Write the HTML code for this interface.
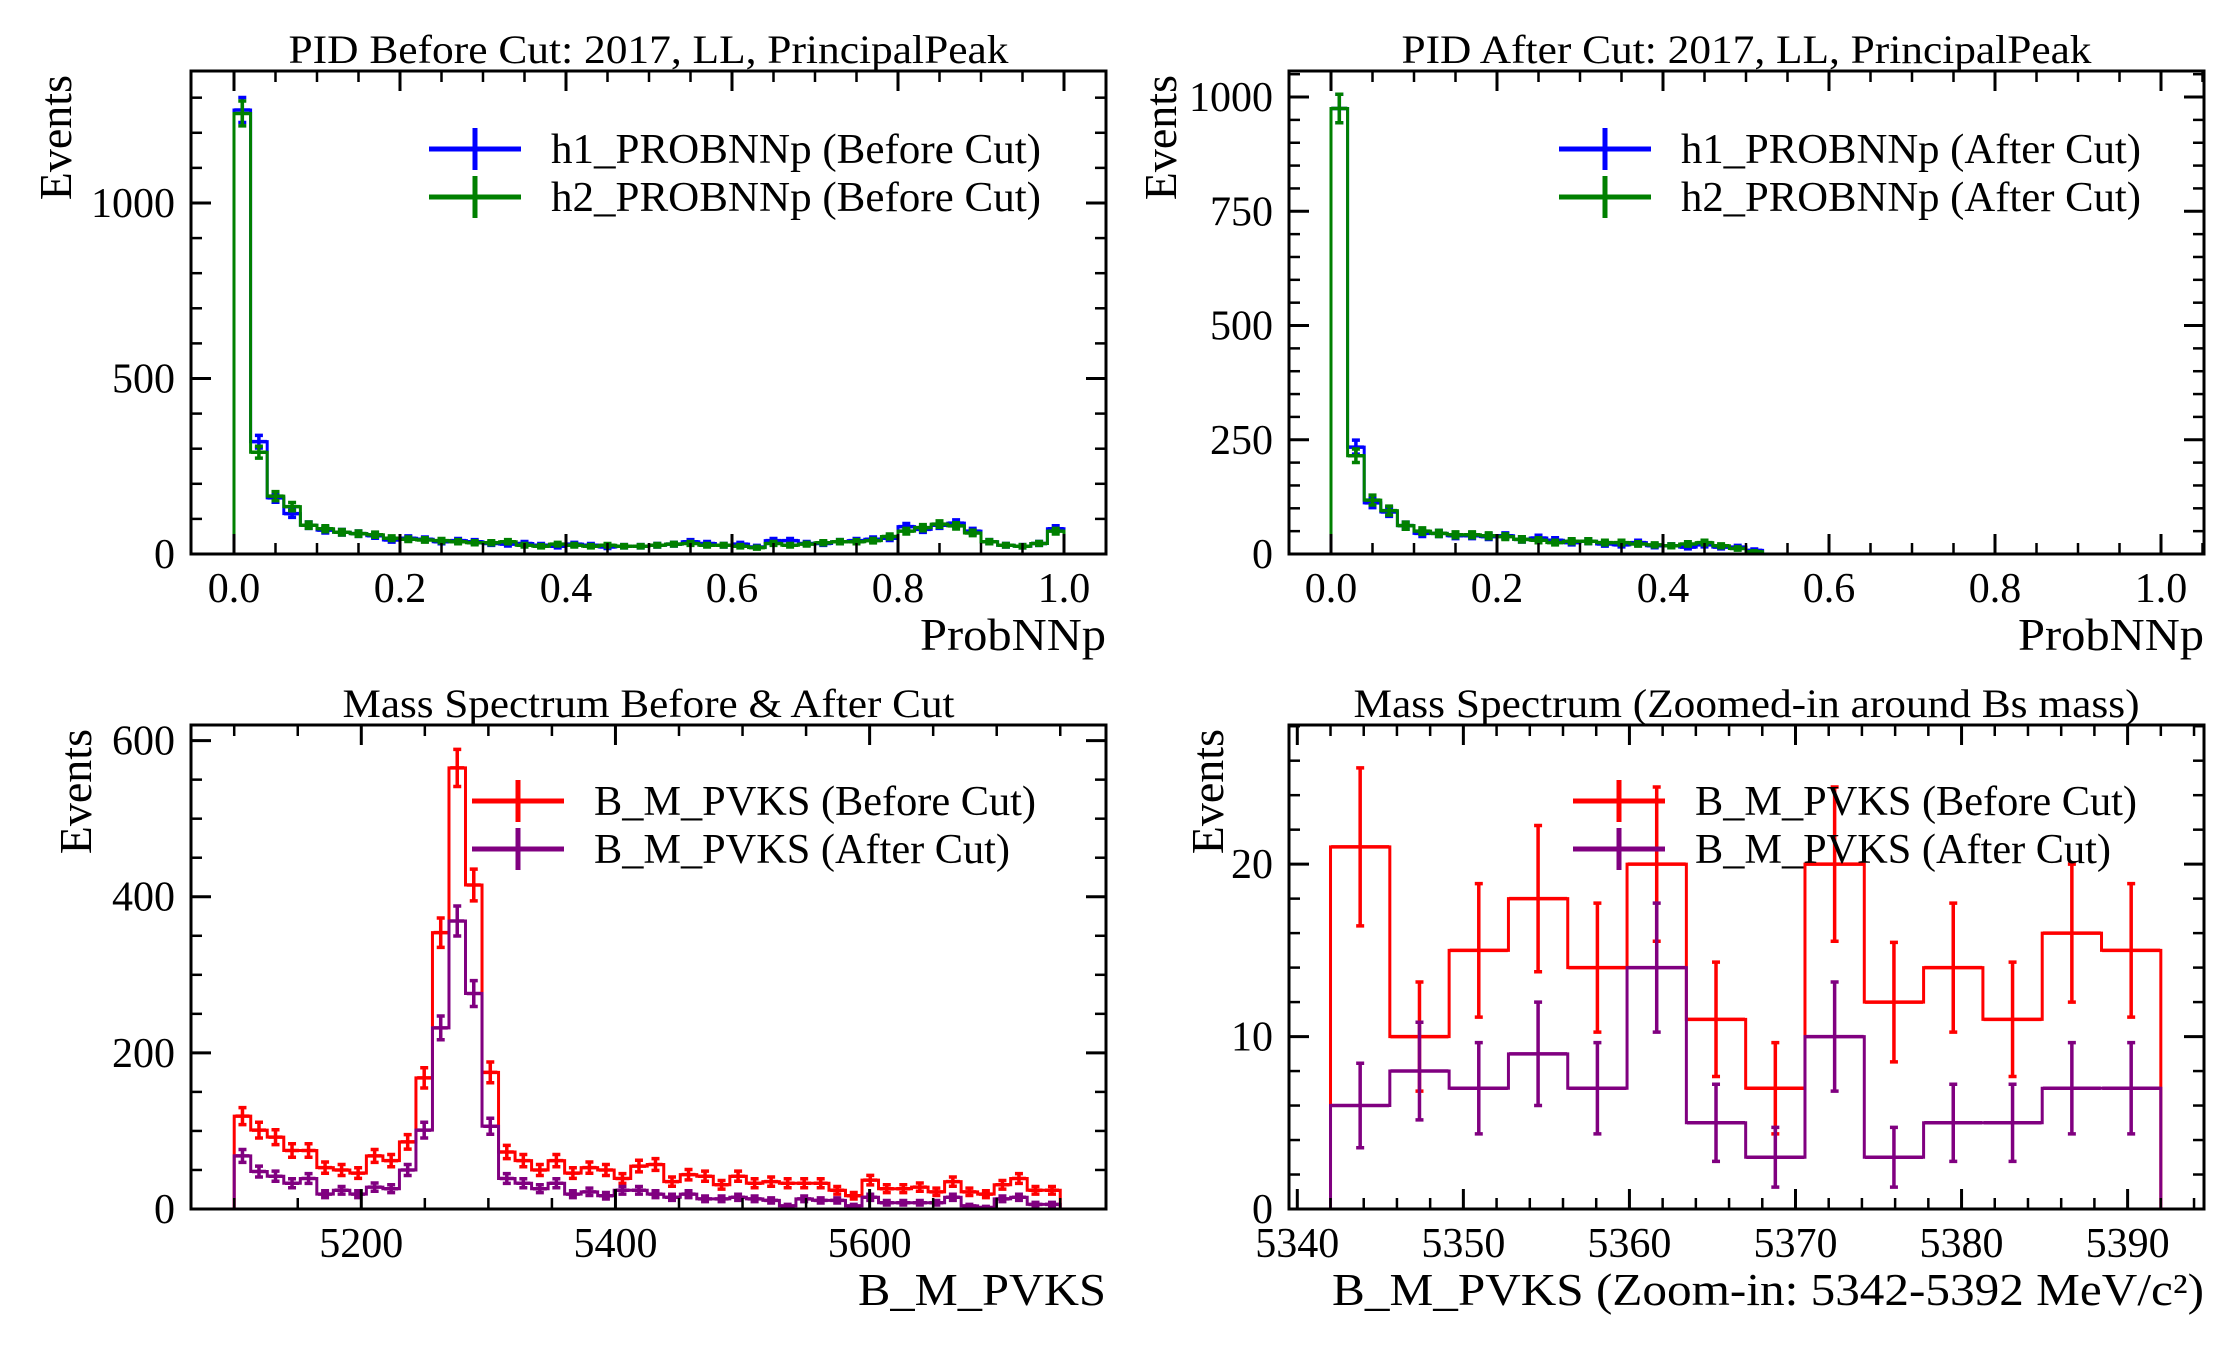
<!DOCTYPE html>
<html><head><meta charset="utf-8"><style>
html,body{margin:0;padding:0;background:#fff}
svg{display:block;font-family:"Liberation Serif",serif}
</style></head><body>
<svg id="fig" width="2232" height="1350" viewBox="0 0 2232 1350" xmlns="http://www.w3.org/2000/svg"></svg>
<script>
// ---- data ----
const pidEdgesStart = 0, pidBinWidth = 0.02;
const pidBeforeH1 = [1265,320,160,115,82,68,62,58,52,40,45,42,35,38,35,30,28,30,25,22,28,25,20,22,22,25,28,35,30,25,28,20,38,38,30,30,35,38,42,45,78,70,82,88,65,35,25,22,30,72];
const pidBeforeH2 = [1255,290,165,135,82,72,62,58,55,45,42,40,38,35,32,32,35,25,22,28,25,22,25,22,22,25,28,30,25,25,22,18,30,25,28,32,35,35,38,50,65,75,85,80,60,35,25,22,30,65];
const pidAfterH1 = [975,234,112,92,62,45,45,40,40,38,40,32,35,30,25,28,22,20,25,18,18,15,20,15,15,8,0,0,0,0,0,0,0,0,0,0,0,0,0,0,0,0,0,0,0,0,0,0,0,0];
const pidAfterH2 = [975,215,118,95,62,50,45,42,42,40,38,32,30,25,28,28,25,25,22,20,18,22,25,18,12,5,0,0,0,0,0,0,0,0,0,0,0,0,0,0,0,0,0,0,0,0,0,0,0,0];
const massStart = 5100, massBinWidth = 13;
const massBefore = [119,101,92,75,75,53,50,46,68,62,86,168,354,565,415,175,73,62,50,62,46,53,50,39,55,57,35,44,42,31,42,33,35,33,33,33,24,17,37,26,26,28,22,35,22,19,31,39,24,24];
const massAfter = [68,48,42,33,39,19,24,19,28,26,50,101,232,369,276,106,39,33,26,33,19,22,17,24,24,19,15,19,13,13,15,13,11,4,13,11,11,4,15,8,8,8,8,15,4,2,13,15,6,6];
const zoomStart = 5342, zoomBinWidth = 50/14;
const zoomBefore = [21,10,15,18,14,20,11,7,20,12,14,11,16,15];
const zoomAfter = [6,8,7,9,7,14,5,3,10,3,5,5,7,7];
const pidTicks = [0,0.2,0.4,0.6,0.8,1.0];
const pidTickLabels = ["0.0","0.2","0.4","0.6","0.8","1.0"];

const NS = "http://www.w3.org/2000/svg";
const fig = document.getElementById('fig');
function el(tag, attrs, parent, text){
  const e = document.createElementNS(NS, tag);
  for (const k in attrs) e.setAttribute(k, attrs[k]);
  if (text !== undefined) e.textContent = text;
  (parent||fig).appendChild(e);
  return e;
}

function panel(c){
  const g = el('g', {});
  
  
  const X = v => c.L + (v - c.xmin) / (c.xmax - c.xmin) * (c.R - c.L);
  const Y = v => c.B - (v - c.ymin) / (c.ymax - c.ymin) * (c.B - c.T);
  c.series.forEach(s => {
    const sg = el('g', {}, g);
    
    
    let d = 'M' + X(s.start) + ',' + Y(0);
    s.vals.forEach((v, i) => {
      d += ' V' + Y(v) + ' H' + X(s.start + (i + 1) * s.w);
    });
    d += ' V' + Y(0);
    const p = el('path', {d: d, fill: 'none', stroke: s.color, 'stroke-width': 3}, sg);
    
    
    s.vals.forEach((v, i) => {
      if (v <= 0) return;
      const cx = X(s.start + (i + 0.5) * s.w), e = Math.sqrt(v);
      const y1 = Y(v - e), y2 = Y(v + e);
      const eb = el('path', {d: 'M' + cx + ',' + y1 + ' V' + y2 + ' M' + (cx - 4) + ',' + y1 + ' H' + (cx + 4) + ' M' + (cx - 4) + ',' + y2 + ' H' + (cx + 4) + ' M' + (cx - c.hx) + ',' + Y(v) + ' H' + (cx + c.hx),
        stroke: s.color, 'stroke-width': 3.5, fill: 'none'}, sg);
      
      
    });
  });
  const tg = el('g', {stroke: '#000'}, g);
  
  
  for (let v = c.xMinorStart; v <= c.xmax + 1e-9; v += c.xMinor) {
    const x = X(v);
    if (x < c.L + 1 || x > c.R - 1) continue;
    const maj = Math.abs(Math.round(v / c.xMajor) * c.xMajor - v) < 1e-6;
    const len = maj ? 20 : 11;
    el('line', {x1: x, x2: x, y1: c.B, y2: c.B - len, 'stroke-width': maj ? 3 : 2.5}, tg);
    el('line', {x1: x, x2: x, y1: c.T, y2: c.T + len, 'stroke-width': maj ? 3 : 2.5}, tg);
  }
  for (let v = 0; v <= c.ymax + 1e-9; v += c.yMinor) {
    const y = Y(v);
    if (y < c.T + 1) continue;
    const maj = Math.abs(Math.round(v / c.yMajor) * c.yMajor - v) < 1e-6;
    const len = maj ? 20 : 11;
    el('line', {x1: c.L, x2: c.L + len, y1: y, y2: y, 'stroke-width': maj ? 3 : 2.5}, tg);
    el('line', {x1: c.R, x2: c.R - len, y1: y, y2: y, 'stroke-width': maj ? 3 : 2.5}, tg);
  }
  const fr = el('rect', {x: c.L, y: c.T, width: c.R - c.L, height: c.B - c.T, fill: 'none', stroke: '#000', 'stroke-width': 3}, g);
  
  
  c.xTicks.forEach((v, i) => {
    const t = el('text', {x: X(v), y: c.B + 48, 'font-size': 42, 'text-anchor': 'middle'}, g, c.xLabels[i]);
    
    
  });
  c.yTicks.forEach(v => {
    const t = el('text', {x: c.L - 16, y: Y(v) + 14, 'font-size': 42, 'text-anchor': 'end'}, g, String(v));
    
    
  });
  const tt = el('text', {x: (c.L + c.R) / 2, y: c.T - 8, 'font-size': 40, 'text-anchor': 'middle', textLength: c.titleLen, lengthAdjust: 'spacingAndGlyphs'}, g, c.title);
  
  
  const xl = el('text', {x: c.R, y: c.B + 96, 'font-size': 46, 'text-anchor': 'end', textLength: c.xTitleLen, lengthAdjust: 'spacingAndGlyphs'}, g, c.xTitle);
  
  
  const yl = el('text', {x: 0, y: 0, 'font-size': 46, 'text-anchor': 'end', transform: 'translate(' + c.ylx + ',' + (c.T + 4) + ') rotate(-90)'}, g, 'Events');
  
  
  c.series.forEach((s, i) => {
    const lg = el('g', {}, g);
    
    
    const ly = c.legY + i * 48;
    el('path', {d: 'M' + c.legX + ',' + ly + ' H' + (c.legX + 92) + ' M' + (c.legX + 46) + ',' + (ly - 21) + ' V' + (ly + 21), stroke: s.color, 'stroke-width': 5, fill: 'none'}, lg);
    el('text', {x: c.legX + 122, y: ly + 14, 'font-size': 42, textLength: s.labelLen, lengthAdjust: 'spacingAndGlyphs'}, lg, s.label);
  });
}

panel({name: 'pid-before-panel', L: 191, R: 1106, T: 71, B: 554, xmin: -0.0518, xmax: 1.0506, ymin: 0, ymax: 1376,
  xMajor: 0.2, xMinor: 0.05, xMinorStart: 0, yMajor: 500, yMinor: 100, xTicks: pidTicks, xLabels: pidTickLabels, yTicks: [0,500,1000],
  title: 'PID Before Cut: 2017, LL, PrincipalPeak', titleLen: 720, xTitle: 'ProbNNp', xTitleLen: 186, ylx: 71, legX: 429, legY: 149, hx: 8,
  series: [
    {name: 'h1-before-series', vals: pidBeforeH1, start: pidEdgesStart, w: pidBinWidth, color: '#0000ff', label: 'h1_PROBNNp (Before Cut)', labelLen: 490},
    {name: 'h2-before-series', vals: pidBeforeH2, start: pidEdgesStart, w: pidBinWidth, color: '#008000', label: 'h2_PROBNNp (Before Cut)', labelLen: 490}]});
panel({name: 'pid-after-panel', L: 1289, R: 2204, T: 71, B: 554, xmin: -0.0506, xmax: 1.0518, ymin: 0, ymax: 1057,
  xMajor: 0.2, xMinor: 0.05, xMinorStart: 0, yMajor: 250, yMinor: 50, xTicks: pidTicks, xLabels: pidTickLabels, yTicks: [0,250,500,750,1000],
  title: 'PID After Cut: 2017, LL, PrincipalPeak', titleLen: 690, xTitle: 'ProbNNp', xTitleLen: 186, ylx: 1176, legX: 1559, legY: 149, hx: 8,
  series: [
    {name: 'h1-after-series', vals: pidAfterH1, start: pidEdgesStart, w: pidBinWidth, color: '#0000ff', label: 'h1_PROBNNp (After Cut)', labelLen: 460},
    {name: 'h2-after-series', vals: pidAfterH2, start: pidEdgesStart, w: pidBinWidth, color: '#008000', label: 'h2_PROBNNp (After Cut)', labelLen: 460}]});
panel({name: 'mass-spectrum-panel', L: 191, R: 1106, T: 725, B: 1209, xmin: 5066, xmax: 5786, ymin: 0, ymax: 620,
  xMajor: 200, xMinor: 50, xMinorStart: 5100, yMajor: 200, yMinor: 50, xTicks: [5200,5400,5600], xLabels: ['5200','5400','5600'], yTicks: [0,200,400,600],
  title: 'Mass Spectrum Before & After Cut', titleLen: 612, xTitle: 'B_M_PVKS', xTitleLen: 248, ylx: 91, legX: 472, legY: 801, hx: 7,
  series: [
    {name: 'mass-before-series', vals: massBefore, start: massStart, w: massBinWidth, color: '#ff0000', label: 'B_M_PVKS (Before Cut)', labelLen: 442},
    {name: 'mass-after-series', vals: massAfter, start: massStart, w: massBinWidth, color: '#800080', label: 'B_M_PVKS (After Cut)', labelLen: 416}]});
panel({name: 'mass-zoom-panel', L: 1289, R: 2204, T: 725, B: 1209, xmin: 5339.5, xmax: 5394.6, ymin: 0, ymax: 28.07,
  xMajor: 10, xMinor: 2, xMinorStart: 5340, yMajor: 10, yMinor: 2, xTicks: [5340,5350,5360,5370,5380,5390], xLabels: ['5340','5350','5360','5370','5380','5390'], yTicks: [0,10,20],
  title: 'Mass Spectrum (Zoomed-in around Bs mass)', titleLen: 786, xTitle: 'B_M_PVKS (Zoom-in: 5342-5392 MeV/c²)', xTitleLen: 872, ylx: 1223, legX: 1573, legY: 801, hx: 29,
  series: [
    {name: 'zoom-before-series', vals: zoomBefore, start: zoomStart, w: zoomBinWidth, color: '#ff0000', label: 'B_M_PVKS (Before Cut)', labelLen: 442},
    {name: 'zoom-after-series', vals: zoomAfter, start: zoomStart, w: zoomBinWidth, color: '#800080', label: 'B_M_PVKS (After Cut)', labelLen: 416}]});
</script>
</body></html>
